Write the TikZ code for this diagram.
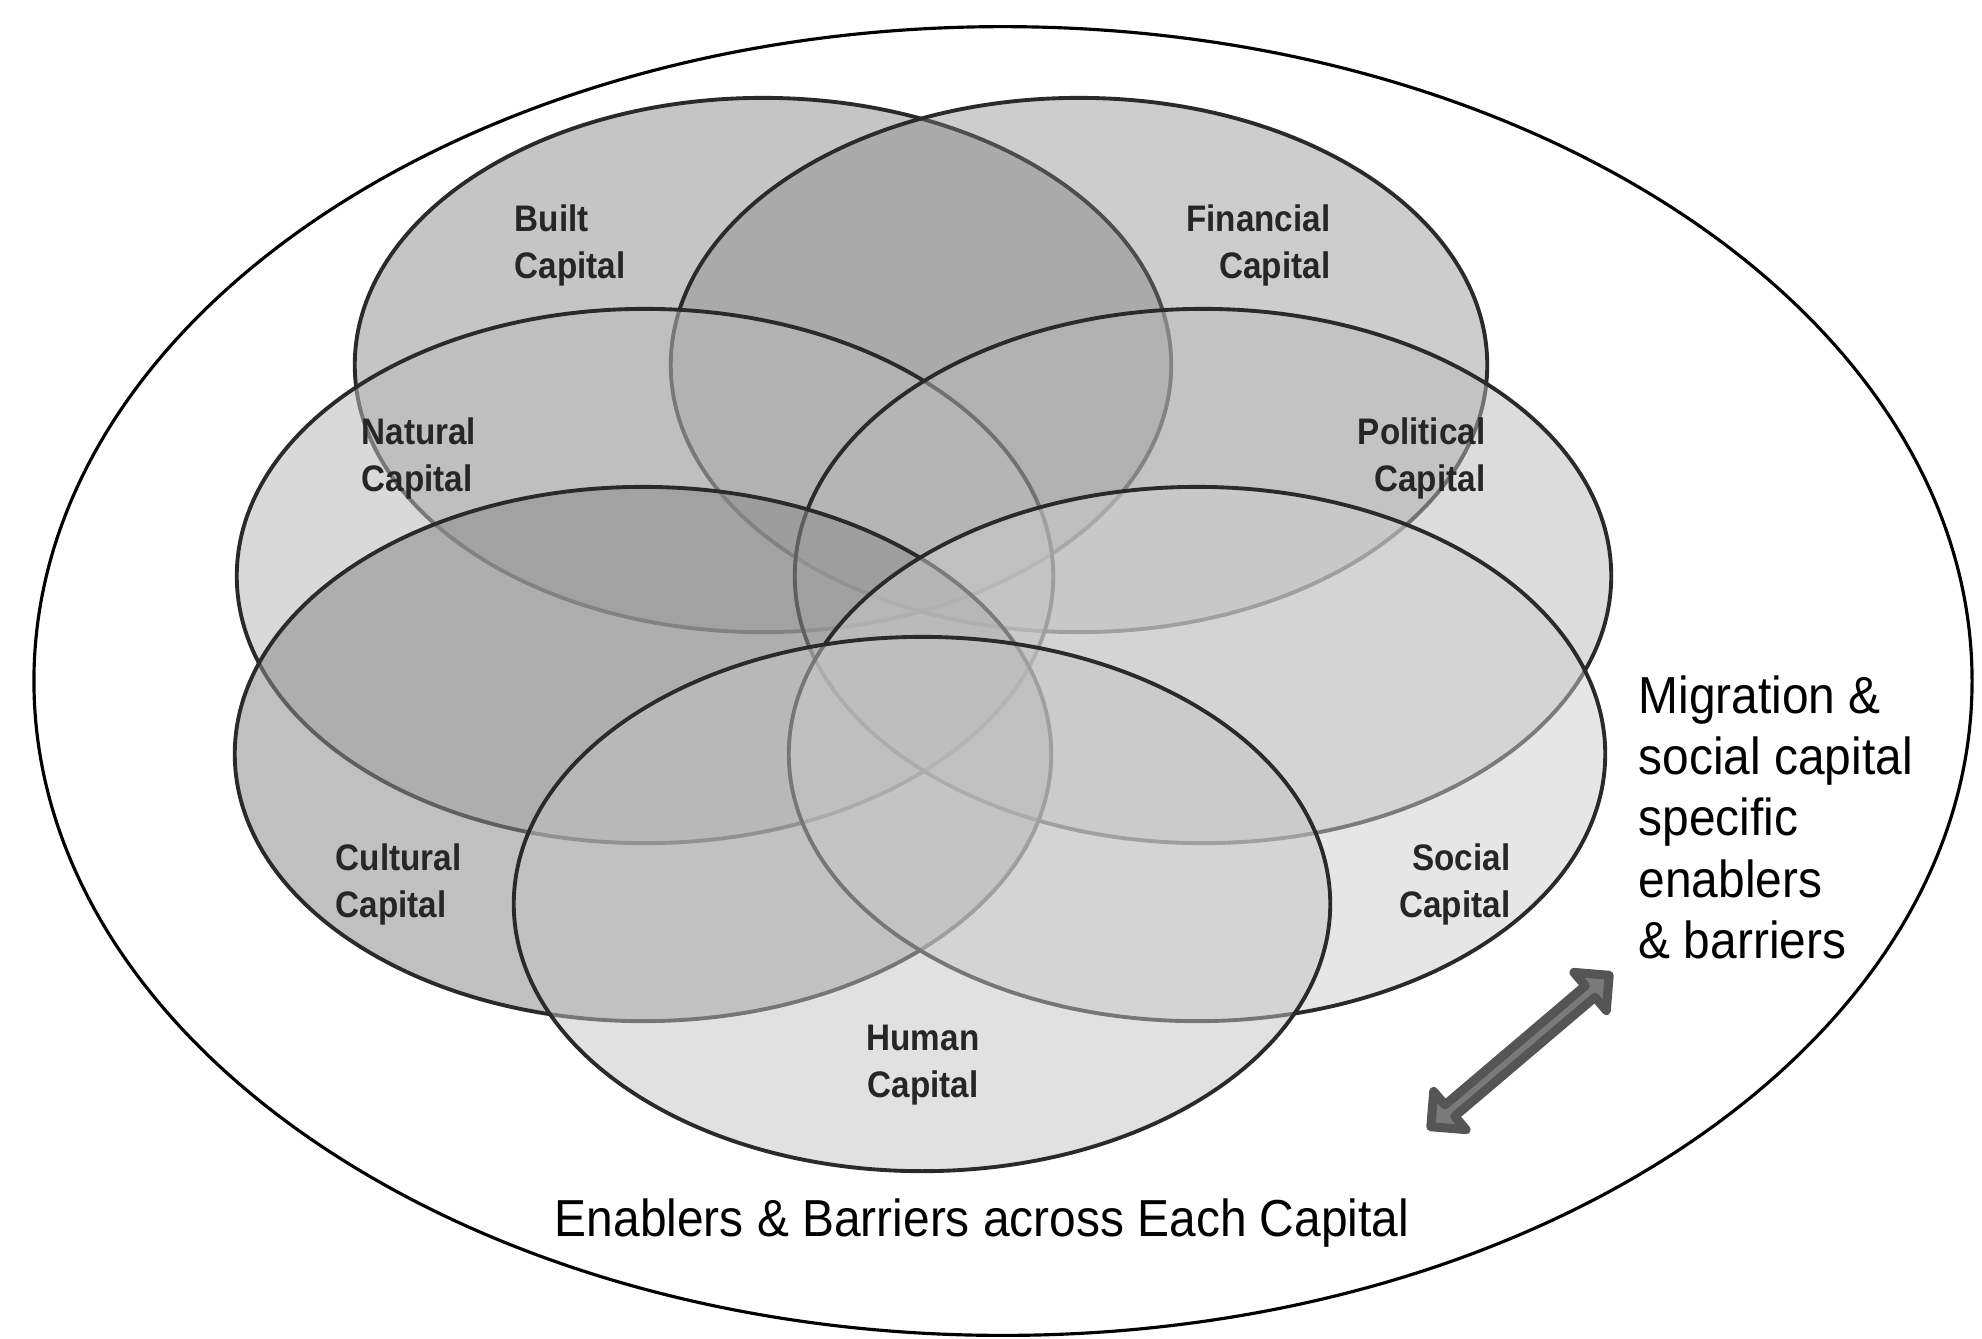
\documentclass[tikz,border=0pt]{standalone}
\usepackage{fontspec}
\setmainfont{Liberation Sans}
\newfontfamily\capfont{Liberation Sans}[FakeStretch=0.9]
\newfontfamily\notefont{Liberation Sans}[FakeStretch=0.92]
\usetikzlibrary{shapes.geometric,calc}

\definecolor{rim}{RGB}{42,42,42}
\definecolor{builtfill}{RGB}{150,150,150}
\definecolor{financefill}{RGB}{130,130,130}
\definecolor{naturefill}{RGB}{185,185,185}
\definecolor{politicfill}{RGB}{185,185,185}
\definecolor{culturefill}{RGB}{140,140,140}
\definecolor{socialfill}{RGB}{205,205,205}
\definecolor{humanfill}{RGB}{195,195,195}
\definecolor{arrowedge}{RGB}{85,85,85}
\definecolor{arrowcore}{RGB}{122,122,122}

\tikzset{
  capital/.style={ellipse, draw=rim, line width=1.1pt,
    minimum width=8.16cm, minimum height=5.34cm, inner sep=0pt, outer sep=0pt},
  caplabel/.style={font=\capfont\bfseries\fontsize{10.5}{13.4}\selectfont,
    text=black!85, inner sep=0pt},
  note/.style={font=\notefont\fontsize{14.8}{17.4}\selectfont,
    inner sep=0pt, align=left},
  field/.style={ellipse, draw=black, line width=0.9pt,
    minimum width=19.37cm, minimum height=13.08cm, inner sep=0pt, outer sep=0pt},
  twoway/.style={draw=arrowedge, fill=arrowcore, line width=0.09cm,
    line join=round}
}

\begin{document}
\begin{tikzpicture}[x=0.01cm, y=-0.01cm]
  \useasboundingbox (0,0) rectangle (1982,1338);

  % surrounding field of enablers and barriers
  \node[field] (outer) at (1003,681) {};

  % the seven capitals, drawn back to front
  \node[capital, fill=builtfill,   fill opacity=0.55] (built)     at (763,365) {};
  \node[capital, fill=financefill, fill opacity=0.40] (financial) at (1079,365) {};
  \node[capital, fill=naturefill,  fill opacity=0.55] (natural)   at (645,576) {};
  \node[capital, fill=politicfill, fill opacity=0.50] (political) at (1203,576) {};
  \node[capital, fill=culturefill, fill opacity=0.55] (cultural)  at (643,754) {};
  \node[capital, fill=socialfill,  fill opacity=0.50] (social)    at (1197,754) {};
  \node[capital, fill=humanfill,   fill opacity=0.50] (human)     at (922,904) {};

  % capital labels
  \node[caplabel, anchor=north west, align=left]  (builtlbl)     at (514,204)  {Built\\Capital};
  \node[caplabel, anchor=north east, align=right] (financiallbl) at (1331,204) {Financial\\Capital};
  \node[caplabel, anchor=north west, align=left]  (naturallbl)   at (361,417)  {Natural\\Capital};
  \node[caplabel, anchor=north east, align=right] (politicallbl) at (1486,417) {Political\\Capital};
  \node[caplabel, anchor=north west, align=left]  (culturallbl)  at (335,843)  {Cultural\\Capital};
  \node[caplabel, anchor=north east, align=right] (sociallbl)    at (1511,843) {Social\\Capital};
  \node[caplabel, anchor=north, align=center]     (humanlbl)     at (923,1024) {Human\\Capital};

  % side note and caption
  \node[note, anchor=north west] (migration) at (1638,675)
    {Migration \&\\social capital\\specific\\enablers\\\& barriers};
  \node[note, anchor=base] (across) at (982,1236)
    {Enablers \& Barriers across Each Capital};

  % two-way arrow between the capitals and the side note
  \coordinate (arrowlow)  at (1427,1130);
  \coordinate (arrowhigh) at (1613,972);
  \begin{scope}[shift={($(arrowlow)!0.5!(arrowhigh)$)}, rotate=40.35]
    \draw[twoway] (117,0) -- (92,25) -- (92,7.5) -- (-92,7.5) -- (-92,25)
      -- (-117,0) -- (-92,-25) -- (-92,-7.5) -- (92,-7.5) -- (92,-25) -- cycle;
  \end{scope}
\end{tikzpicture}
\end{document}
